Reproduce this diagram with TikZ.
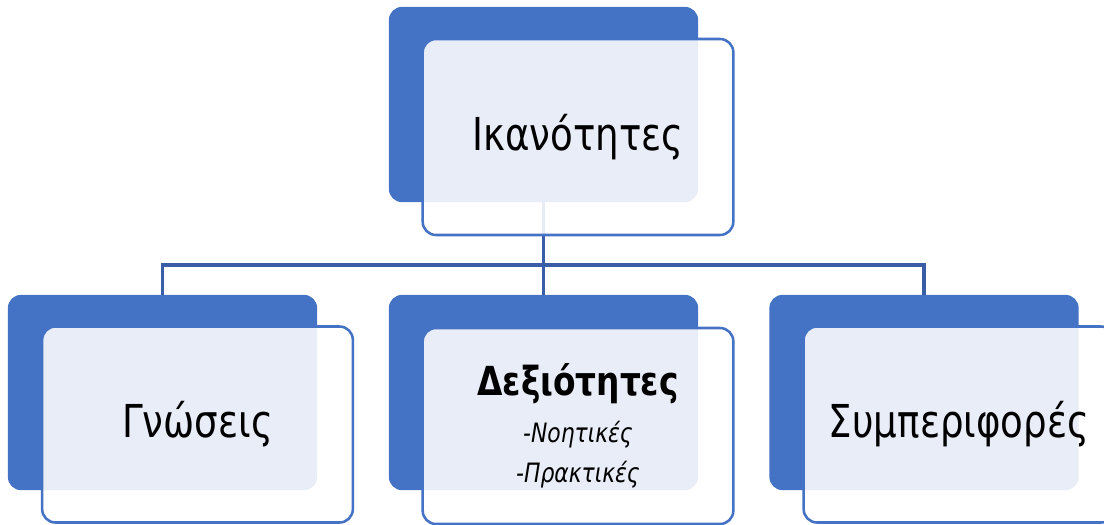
\documentclass[tikz,border=0pt]{standalone}
\usepackage{fontspec}
\setmainfont[FakeStretch=0.82]{DejaVu Sans}
\definecolor{accent}{HTML}{4472C4}
\definecolor{linkblue}{HTML}{3A5DA8}
\begin{document}
\begin{tikzpicture}[x=0.75pt, y=-0.75pt,
  back/.style={rectangle, rounded corners=10pt, fill=accent, draw=none, minimum width=232pt, minimum height=146.5pt},
  front/.style={rectangle, rounded corners=10pt, draw=accent, line width=1.9pt, fill=white, fill opacity=0.88, text opacity=1, minimum width=233pt, minimum height=147pt, align=center},
  big/.style={font=\fontsize{34}{40}\selectfont},
  link/.style={draw=linkblue, line width=2.4pt}]
\useasboundingbox (0,0) rectangle (1104,525);
\node[back] (ikback) at (543.5,104.5) {};
\node[back] (gnback) at (162.5,392.5) {};
\node[back] (dxback) at (543.5,392.5) {};
\node[back] (syback) at (924,392.5) {};
\coordinate (bus) at (543.5,265);
\draw[link] (ikback.south) -- (bus) (bus) -- (dxback.north);
\draw[link] (gnback.north) |- (bus) -| (syback.north);
\node[front, big] (ik) at (578,137) {Ικανότητες};
\node[front, big] (gn) at (197.5,424.5) {Γνώσεις};
\node[front, font=\fontsize{20}{30}\selectfont] (dx) at (578,426) {{\fontsize{30}{36}\selectfont\bfseries Δεξιότητες}\\[5pt] {\itshape -Νοητικές}\\ {\itshape -Πρακτικές}};
\node[front, big] (sy) at (959,424.5) {Συμπεριφορές};
\end{tikzpicture}
\end{document}
